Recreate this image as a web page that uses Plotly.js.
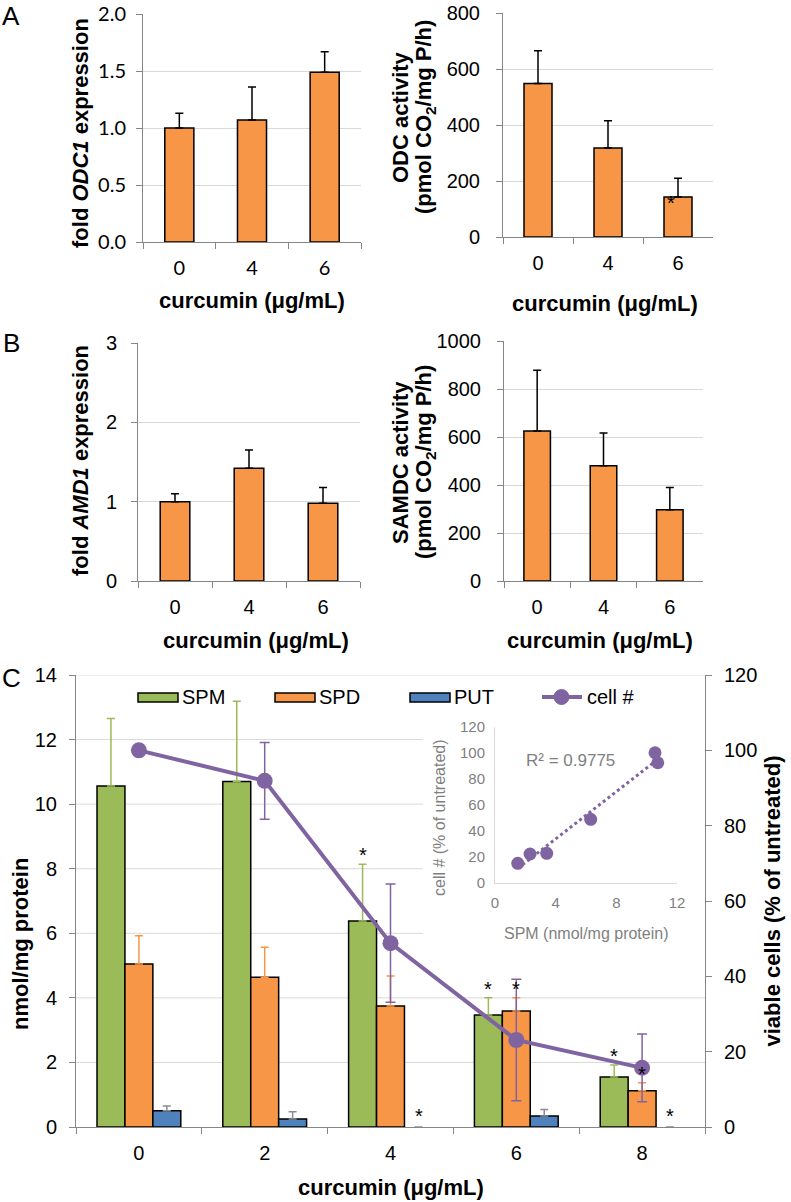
<!DOCTYPE html>
<html><head><meta charset="utf-8">
<script src="https://cdn.plot.ly/plotly-3.0.1.min.js"></script>
<style>html,body{margin:0;padding:0;background:#fff}</style>
</head><body><div id="chart" style="width:791px;height:1202px"></div>
<script>
// ---------------- data ----------------
const dosesAB = ['0', '4', '6'];
const odc1Fold = [1.00, 1.07, 1.49];
const odc1FoldErr = [0.13, 0.29, 0.18];
const odcActivity = [548, 318, 143];
const odcActivityErr = [117, 97, 67];
const odcActivitySig = [false, false, true];
const amd1Fold = [1.00, 1.42, 0.98];
const amd1FoldErr = [0.10, 0.23, 0.20];
const samdcActivity = [625, 480, 297];
const samdcActivityErr = [253, 137, 93];

const dosesC = ['0', '2', '4', '6', '8'];
const spm = [10.56, 10.70, 6.38, 3.47, 1.55];
const spmErr = [2.09, 2.49, 1.76, 0.53, 0.37];
const spmSig = [false, false, true, true, true];
const spd = [5.05, 4.64, 3.75, 3.59, 1.12];
const spdErr = [0.87, 0.93, 0.93, 0.41, 0.25];
const spdSig = [false, false, false, true, true];
const put = [0.50, 0.25, 0.00, 0.34, 0.00];
const putErr = [0.15, 0.22, 0.00, 0.20, 0.00];
const putSig = [false, false, true, false, true];
const cells = [100, 91.9, 48.8, 23.1, 15.7];
const cellsErr = [0, 10.2, 15.7, 16.1, 9.0];

const insetSpm = [10.55, 10.73, 6.31, 3.41, 2.31, 1.50];
const insetCells = [100.2, 92.5, 49.0, 22.8, 22.3, 15.1];
const insetR2 = 'R² = 0.9775';

// ---------------- helpers ----------------
const W = 791, H = 1202;
const px = v => v / W;
const py = v => 1 - v / H;
const xd = (a, b) => [px(a), px(b)];
const yd = (top, bottom) => [py(bottom), py(top)];
const ARIAL = 'Liberation Sans, Arial, sans-serif';
const ORANGE = '#F79646', GREEN = '#9BBB59', BLUE = '#4F81BD', PURPLE = '#8064A2';
const zeros = n => new Array(n).fill(0);

function barTrace(x, y, err, xa, ya, color, errColor, extra) {
  return Object.assign({
    type: 'bar', x: x, y: y, xaxis: xa, yaxis: ya, width: 0.4,
    marker: {color: color, line: {color: '#000', width: y.map(v => (v > 0 ? 1.5 : 0))}},
    error_y: {type: 'data', array: err, arrayminus: zeros(err.length), symmetric: false,
              color: errColor, thickness: 1.5, width: 4},
    hoverinfo: 'skip', showlegend: false
  }, extra || {});
}

const traces = [
  barTrace(dosesAB, odc1Fold, odc1FoldErr, 'x', 'y', ORANGE, '#000'),
  barTrace(dosesAB, odcActivity, odcActivityErr, 'x2', 'y2', ORANGE, '#000'),
  barTrace(dosesAB, amd1Fold, amd1FoldErr, 'x3', 'y3', ORANGE, '#000'),
  barTrace(dosesAB, samdcActivity, samdcActivityErr, 'x4', 'y4', ORANGE, '#000'),
  barTrace(dosesC, spm, spmErr, 'x5', 'y5', GREEN, GREEN, {width: 0.222, offset: -0.333, name: 'SPM'}),
  barTrace(dosesC, spd, spdErr, 'x5', 'y5', ORANGE, ORANGE, {width: 0.222, offset: -0.111, name: 'SPD'}),
  barTrace(dosesC, put, putErr, 'x5', 'y5', BLUE, '#8c8c8c', {width: 0.222, offset: 0.111, name: 'PUT'}),
  {type: 'scatter', mode: 'lines+markers', x: dosesC, y: cells, xaxis: 'x5', yaxis: 'y6', name: 'cell #',
   line: {color: PURPLE, width: 4}, marker: {color: PURPLE, size: 16},
   error_y: {type: 'data', array: cellsErr, symmetric: true, color: PURPLE, thickness: 1.5, width: 5},
   hoverinfo: 'skip', showlegend: false}
];

// inset linear trend (least squares of the inset points)
(function () {
  const n = insetSpm.length;
  const mx = insetSpm.reduce((a, b) => a + b, 0) / n;
  const my = insetCells.reduce((a, b) => a + b, 0) / n;
  let sxy = 0, sxx = 0;
  for (let i = 0; i < n; i++) { sxy += (insetSpm[i] - mx) * (insetCells[i] - my); sxx += (insetSpm[i] - mx) ** 2; }
  const b = sxy / sxx, a = my - b * mx;
  const x0 = Math.min(...insetSpm), x1 = Math.max(...insetSpm);
  traces.push({type: 'scatter', mode: 'lines', x: [x0, x1], y: [a + b * x0, a + b * x1], xaxis: 'x7', yaxis: 'y7',
    line: {color: PURPLE, width: 3, dash: 'dot'}, hoverinfo: 'skip', showlegend: false});
})();
traces.push({type: 'scatter', mode: 'markers', x: insetSpm, y: insetCells, xaxis: 'x7', yaxis: 'y7',
  marker: {color: PURPLE, size: 13}, hoverinfo: 'skip', showlegend: false});

// ---------------- axes ----------------
const tickF = {family: ARIAL, size: 20, color: '#000'};
const titleF = {family: ARIAL, size: 22, color: '#000'};
function xCat(dom, anchor, n, font, standoff) {
  return {domain: dom, anchor: anchor, type: 'category', range: [-0.5, n - 0.5], showline: true, linecolor: '#868686',
    linewidth: 1, ticks: 'outside', tickson: 'boundaries', ticklen: 6, tickcolor: '#868686', showgrid: false,
    zeroline: false, tickfont: font || tickF, ticklabelstandoff: standoff || 8, fixedrange: true};
}
function yNum(dom, anchor, range, dtick, font, standoff, extra) {
  return Object.assign({domain: dom, anchor: anchor, range: range, dtick: dtick, tick0: 0, showline: true,
    linecolor: '#868686', linewidth: 1, ticks: 'outside', ticklen: 6, tickcolor: '#868686', showgrid: true,
    gridcolor: '#d9d9d9', gridwidth: 1, zeroline: false, tickfont: font || tickF, ticklabelstandoff: standoff || 8,
    ticklabeloverflow: 'allow', fixedrange: true}, extra || {});
}
const calF = {family: 'Lato, Carlito, sans-serif', size: 20, color: '#000'};
const grayF = {family: ARIAL, size: 15, color: '#7f7f7f'};
const NB = '\u00a0';

const layout = {
  width: W, height: H, margin: {l: 0, r: 0, t: 0, b: 0, autoexpand: false},
  paper_bgcolor: '#fff', plot_bgcolor: 'rgba(0,0,0,0)',
  barmode: 'overlay', showlegend: false,
  xaxis: xCat(xd(143, 361), 'y', 3, calF, 8),
  yaxis: yNum(yd(14, 242), 'x', [0, 2.0005], 0.5, calF, 6, {tickformat: '.1f'}),
  xaxis2: xCat(xd(503, 713), 'y2', 3),
  yaxis2: yNum(yd(13, 237), 'x2', [0, 800], 200, tickF, 12),
  xaxis3: xCat(xd(138, 360), 'y3', 3),
  yaxis3: yNum(yd(343, 581), 'x3', [0, 3], 1, tickF, 10),
  xaxis4: xCat(xd(504, 703), 'y4', 3),
  yaxis4: yNum(yd(341, 581), 'x4', [0, 1000], 200, tickF, 12),
  xaxis5: xCat(xd(76, 705), 'y5', 5),
  yaxis5: yNum(yd(675, 1127), 'x5', [0, 14], 2, tickF, 8, {showgrid: false,
    title: {text: '<b>nmol/mg protein' + NB.repeat(14) + '</b>', font: titleF, standoff: 0}}),
  yaxis6: yNum(yd(675, 1127), 'x5', [0, 120], 20, tickF, 8, {overlaying: 'y5', side: 'right', showgrid: false,
    title: {text: '<b>viable cells (% of untreated)</b>', font: titleF, standoff: 8}}),
  xaxis7: {domain: xd(495, 677), anchor: 'y7', range: [0, 12], dtick: 4, showline: true, linecolor: '#d9d9d9',
    showgrid: false, zeroline: false, ticks: '', tickfont: grayF, ticklabelstandoff: 6, fixedrange: true},
  yaxis7: {domain: yd(727, 883), anchor: 'x7', range: [0, 120], dtick: 20, showline: true, linecolor: '#d9d9d9',
    showgrid: false, zeroline: false, ticks: '', tickfont: grayF, ticklabelstandoff: 6, fixedrange: true},
  shapes: [],
  annotations: []
};

// panel C gridlines (hidden behind the inset area)
for (let v = 2; v <= 14; v += 2) {
  const hidden = v >= 6 && v <= 12;
  layout.shapes.push({type: 'line', layer: 'below', xref: 'paper', yref: 'y5', x0: px(76), x1: px(hidden ? 423 : 705),
    y0: v, y1: v, line: {color: '#d9d9d9', width: 1}});
}

// legend (panel C)
const legendItems = [
  {name: 'SPM', color: GREEN, x: 138},
  {name: 'SPD', color: ORANGE, x: 275},
  {name: 'PUT', color: BLUE, x: 410}
];
legendItems.forEach(it => {
  layout.shapes.push({type: 'rect', xref: 'paper', yref: 'paper', x0: px(it.x), x1: px(it.x + 40), y0: py(702), y1: py(693),
    fillcolor: it.color, line: {color: '#000', width: 1.5}});
  layout.annotations.push({xref: 'paper', yref: 'paper', x: px(it.x + 42), y: py(697), xanchor: 'left', yanchor: 'middle',
    text: it.name, showarrow: false, font: {family: ARIAL, size: 20, color: '#000'}});
});
layout.shapes.push({type: 'line', xref: 'paper', yref: 'paper', x0: px(542), x1: px(582), y0: py(697), y1: py(697),
  line: {color: PURPLE, width: 4}});
layout.shapes.push({type: 'circle', xref: 'paper', yref: 'paper', x0: px(554), x1: px(569), y0: py(704.5), y1: py(689.5),
  fillcolor: PURPLE, line: {color: PURPLE, width: 1}});
layout.annotations.push({xref: 'paper', yref: 'paper', x: px(585), y: py(697), xanchor: 'left', yanchor: 'middle',
  text: 'cell #', showarrow: false, font: {family: ARIAL, size: 20, color: '#000'}});

// text helpers
function ann(x, y, text, size, angle, extra) {
  layout.annotations.push(Object.assign({xref: 'paper', yref: 'paper', x: px(x), y: py(y), text: text, showarrow: false,
    xanchor: 'center', yanchor: 'middle', textangle: angle || 0,
    font: {family: ARIAL, size: size, color: '#000'}}, extra || {}));
}
const B = s => '<b>' + s + '</b>';
const curc = B('curcumin (μg/mL)');

// panel letters
ann(11, 16, 'A', 26);
ann(11, 343, 'B', 26);
ann(11, 678, 'C', 26);

// panel A
ann(80, 133, B('fold <i>ODC1</i> expression'), 22, -90);
ann(252, 300, curc, 22);
ann(400, 117, B('ODC activity'), 22, -90);
ann(425, 117, B('(pmol CO<sub>2</sub>/mg P/h)'), 22, -90);
ann(605, 303, curc, 22);
// panel B
ann(80, 461, B('fold <i>AMD1</i> expression'), 22, -90);
ann(256, 640, curc, 22);
ann(400, 462, B('SAMDC activity'), 22, -90);
ann(425, 462, B('(pmol CO<sub>2</sub>/mg P/h)'), 22, -90);
ann(600, 640, curc, 22);
// panel C
ann(391, 1187, curc, 22);
// inset
ann(440, 818, 'cell # (% of untreated)', 16, -90, {font: {family: ARIAL, size: 16, color: '#7f7f7f'}});
ann(586, 933, 'SPM (nmol/mg protein)', 16, 0, {font: {family: ARIAL, size: 16, color: '#7f7f7f'}});
ann(570, 760, insetR2, 17, 0, {font: {family: ARIAL, size: 17, color: '#7f7f7f'}});

// significance stars (category axes use the category index as x)
function star(xa, ya, i, y, xshift, yshift) {
  layout.annotations.push({xref: xa, yref: ya, x: i, y: y, xshift: xshift, yshift: yshift, text: '*',
    showarrow: false, xanchor: 'center', yanchor: 'middle', font: {family: ARIAL, size: 20, color: '#000'}});
}
odcActivitySig.forEach((s, i) => { if (s) star('x2', 'y2', i, odcActivity[i], -7, -6); });
spmSig.forEach((s, i) => { if (s) star('x5', 'y5', i, spm[i] + spmErr[i], -28, 9); });
spdSig.forEach((s, i) => { if (s) star('x5', 'y5', i, spd[i] + spdErr[i], 0, 9); });
putSig.forEach((s, i) => { if (s) star('x5', 'y5', i, put[i] + putErr[i], 28, 11); });

Plotly.newPlot('chart', traces, layout, {staticPlot: true, displayModeBar: false});
</script>
</body></html>
